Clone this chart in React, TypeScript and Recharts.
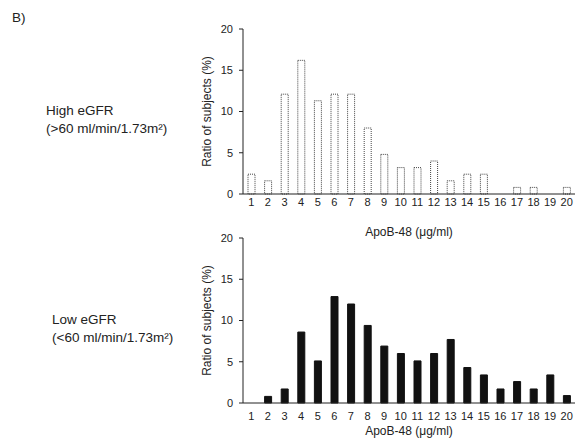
import { BarChart, Bar, XAxis, YAxis } from 'recharts'

const categories = ['1', '2', '3', '4', '5', '6', '7', '8', '9', '10', '11', '12', '13', '14', '15', '16', '17', '18', '19', '20']
const highEgfr = [2.4, 1.6, 12.1, 16.2, 11.3, 12.1, 12.1, 8.0, 4.8, 3.2, 3.2, 4.0, 1.6, 2.4, 2.4, 0, 0.8, 0.8, 0, 0.8]
const lowEgfr = [0, 0.8, 1.7, 8.6, 5.1, 12.9, 12.0, 9.4, 6.9, 6.0, 5.1, 6.0, 7.7, 4.3, 3.4, 1.7, 2.6, 1.7, 3.4, 0.9]
const yTicks = [0, 5, 10, 15, 20]

const highData = categories.map((c, i) => ({ x: c, v: highEgfr[i] }))
const lowData = categories.map((c, i) => ({ x: c, v: lowEgfr[i] }))

const font = '"Liberation Sans", Arial, sans-serif'
const tickStyle = { fontSize: 11, fill: '#222', fontFamily: font }
const labelStyle = { fontSize: 12, fill: '#222', fontFamily: font }

function Panel({ data, height, top, bottom, tickMargin, labelOffset, filled }: {
  data: { x: string; v: number }[]
  height: number
  top: number
  bottom: number
  tickMargin: number
  labelOffset: number
  filled: boolean
}) {
  return (
    <BarChart width={385} height={height} data={data} margin={{ top, right: 0, left: 0, bottom: 0 }} barCategoryGap={0}>
      <XAxis
        dataKey="x"
        height={bottom}
        interval={0}
        tickLine={false}
        tickSize={0}
        tickMargin={tickMargin}
        stroke="#222"
        tick={tickStyle}
        label={{ value: 'ApoB-48 (μg/ml)', position: 'insideBottom', offset: labelOffset, style: labelStyle }}
      />
      <YAxis
        width={53}
        domain={[0, 20]}
        ticks={yTicks}
        tickSize={4}
        tickMargin={6}
        stroke="#222"
        tick={tickStyle}
        label={{
          value: 'Ratio of subjects (%)',
          angle: -90,
          position: 'insideLeft',
          offset: 17,
          style: { ...labelStyle, textAnchor: 'middle' },
        }}
      />
      <Bar
        dataKey="v"
        barSize={7}
        fill={filled ? '#111' : '#fff'}
        stroke={filled ? '#111' : '#444'}
        strokeWidth={1}
        strokeDasharray={filled ? undefined : '1 1'}
        isAnimationActive={false}
      />
    </BarChart>
  )
}

export default function App() {
  const text = { position: 'absolute' as const, fontFamily: font, fontSize: 13.5, color: '#222', lineHeight: '18px', whiteSpace: 'nowrap' as const }
  return (
    <div style={{ position: 'absolute', left: 0, top: 0, width: 575, height: 445, background: '#fff', overflow: 'hidden' }}>
      <div style={{ ...text, left: 12, top: 9 }}>B)</div>
      <div style={{ ...text, left: 46, top: 102 }}>
        High eGFR<br />(&gt;60 ml/min/1.73m²)
      </div>
      <div style={{ ...text, left: 52, top: 311 }}>
        Low eGFR<br />(&lt;60 ml/min/1.73m²)
      </div>
      <div style={{ position: 'absolute', left: 190, top: 0 }}>
        <Panel data={highData} height={240} top={29} bottom={46} tickMargin={4} labelOffset={4} filled={false} />
      </div>
      <div style={{ position: 'absolute', left: 190, top: 200 }}>
        <Panel data={lowData} height={245} top={38} bottom={42} tickMargin={9} labelOffset={10} filled={true} />
      </div>
    </div>
  )
}
